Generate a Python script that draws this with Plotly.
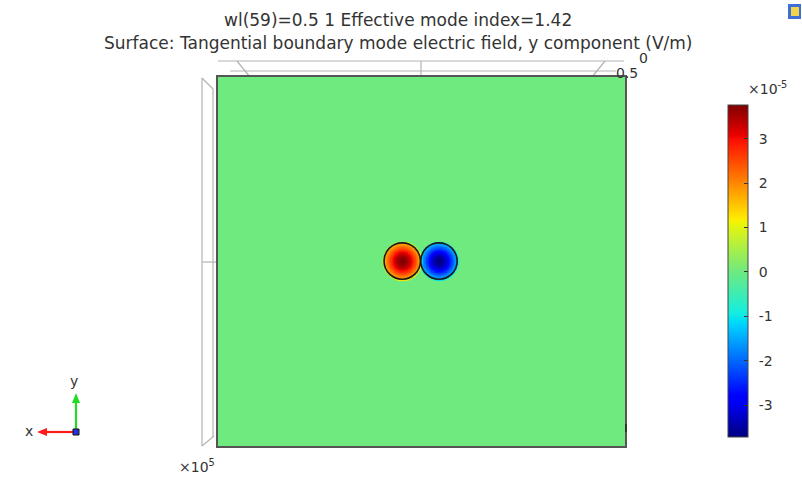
import numpy as np
import plotly.graph_objects as go

# ---------------- data ----------------
title_line1 = "wl(59)=0.5 1 Effective mode index=1.42"
title_line2 = "Surface: Tangential boundary mode electric field, y component (V/m)"

# two lobes of the mode field (values in units of 1e-5 V/m)
lobe_x = [-1.02, 1.02]          # centres, um
lobe_y = [0.0, 0.0]
lobe_radius = [1.01, 1.01]      # wire radius, um
lobe_peak = [3.76, -3.72]       # peak field (x1e-5 V/m)
lobe_edge_value = [1.65, -1.35] # field at the boundary circle (x1e-5 V/m)

field_min = -3.72
field_max = 3.76
cbar_tickvals = [3, 2, 1, 0, -1, -2, -3]
cbar_ticktext = ["3", "2", "1", "0", "-1", "-2", "-3"]
top_tick_labels = ["0", "0.5"]
exponent_label = "×10<sup>5</sup>"
cbar_exponent_label = "×10<sup>-5</sup>"

x_range = [-11.25, 11.35]
y_range = [-10.27, 10.22]

# ---------------- field grid ----------------
xs = np.concatenate([np.linspace(x_range[0], -3.0, 9), np.arange(-2.6, 2.6001, 0.04),
                     np.linspace(3.0, x_range[1], 9)])
ys = np.concatenate([np.linspace(y_range[0], -2.0, 9), np.arange(-1.6, 1.6001, 0.04),
                     np.linspace(2.0, y_range[1], 9)])
X, Y = np.meshgrid(xs, ys)
Z = np.zeros_like(X)
for cx, cy, R, pk, ev in zip(lobe_x, lobe_y, lobe_radius, lobe_peak, lobe_edge_value):
    r = np.hypot(X - cx, Y - cy)
    a = np.log(pk / ev) / R ** 2
    inside = pk * np.exp(-a * r ** 2)
    outside = ev * np.exp(-((r - R) / 0.07) ** 2)
    Z += np.where(r <= R, inside, outside)

jet = [
    [0.0, "rgb(0,0,128)"], [0.11, "rgb(0,0,255)"], [0.125, "rgb(0,0,255)"],
    [0.34, "rgb(0,212,255)"], [0.35, "rgb(0,222,245)"], [0.375, "rgb(21,238,222)"],
    [0.5, "rgb(112,234,125)"],
    [0.64, "rgb(232,245,12)"], [0.65, "rgb(245,242,0)"], [0.66, "rgb(255,232,0)"],
    [0.89, "rgb(255,19,0)"], [0.91, "rgb(232,0,0)"], [1.0, "rgb(128,0,0)"],
]

W, H = 802, 478
L, Rm, T, B = 218, 177, 77, 32


def px(x):
    return (x - L) / (W - L - Rm)


def py(y):
    return (H - B - y) / (H - T - B)


fig = go.Figure()
fig.add_trace(go.Heatmap(
    x=xs, y=ys, z=Z, zmin=field_min, zmax=field_max, colorscale=jet,
    zsmooth="best",
    colorbar=dict(
        xref="paper", yref="paper", xpad=0, ypad=0,
        x=px(728), xanchor="left", y=py(437), yanchor="bottom",
        len=(437 - 105) / (H - T - B), lenmode="fraction", thickness=20,
        outlinecolor="#444", outlinewidth=1,
        tickvals=cbar_tickvals, ticktext=["\u2002" + t for t in cbar_ticktext],
        ticks="inside", ticklen=4, tickcolor="#333",
        tickfont=dict(family="DejaVu Sans", size=14, color="#333"),
    ),
    showscale=True,
))

shapes = []
# wire boundaries
for cx, cy, R in zip(lobe_x, lobe_y, lobe_radius):
    shapes.append(dict(type="circle", xref="x", yref="y", x0=cx - R, x1=cx + R,
                       y0=cy - R, y1=cy + R, line=dict(color="#1a1a1a", width=1.6)))

grey = dict(color="#b4b4b4", width=1.2)
frame_lines = [
    ((218, 61), (624, 61)), ((230, 71), (616, 71)), ((421, 61), (421, 77)),
    ((237, 61), (250, 77)), ((605, 61), (592, 77)),
    ((202, 78), (202, 446)), ((213, 89), (213, 437)), ((202, 78), (213, 89)),
    ((202, 446), (214, 436)), ((202, 262), (218, 262)),
]
for (x0, y0), (x1, y1) in frame_lines:
    shapes.append(dict(type="line", xref="paper", yref="paper", x0=px(x0), y0=py(y0),
                       x1=px(x1), y1=py(y1), line=grey, layer="below"))
# small dark tick on the right edge
shapes.append(dict(type="line", xref="paper", yref="paper", x0=px(626), y0=py(424),
                   x1=px(626), y1=py(432), line=dict(color="#333", width=2)))
# triad arrows (shafts + heads)
shapes.append(dict(type="line", xref="paper", yref="paper", x0=px(76), y0=py(432),
                   x1=px(46), y1=py(432), line=dict(color="#ff1a1a", width=2.2)))
shapes.append(dict(type="path", xref="paper", yref="paper",
                   path=f"M {px(37)} {py(432)} L {px(47)} {py(428)} L {px(47)} {py(436)} Z",
                   fillcolor="#ff1a1a", line=dict(width=0)))
shapes.append(dict(type="line", xref="paper", yref="paper", x0=px(76), y0=py(432),
                   x1=px(76), y1=py(402), line=dict(color="#22dd22", width=2.2)))
shapes.append(dict(type="path", xref="paper", yref="paper",
                   path=f"M {px(76)} {py(393)} L {px(72)} {py(403)} L {px(80)} {py(403)} Z",
                   fillcolor="#22dd22", line=dict(width=0)))
# triad origin
shapes.append(dict(type="rect", xref="paper", yref="paper", x0=px(73), y0=py(435),
                   x1=px(79), y1=py(429), fillcolor="#2233dd", line=dict(color="#111", width=1)))
# corner icon
shapes.append(dict(type="rect", xref="paper", yref="paper", x0=px(788), y0=py(19),
                   x1=px(801), y1=py(4), fillcolor="#3d6fd6", line=dict(width=0)))
shapes.append(dict(type="rect", xref="paper", yref="paper", x0=px(791), y0=py(16),
                   x1=px(799), y1=py(7), fillcolor="#f2d44a", line=dict(width=0)))

font = dict(family="DejaVu Sans", size=14, color="#333")
tfont = dict(family="DejaVu Sans", size=17, color="#333")
ann = [
    dict(text=title_line1, x=px(398), y=py(20), font=tfont),
    dict(text=title_line2, x=px(398), y=py(43), font=tfont),
    dict(text=top_tick_labels[0], x=px(643), y=py(58), font=font),
    dict(text=top_tick_labels[1], x=px(627), y=py(73), font=font),
    dict(text=exponent_label, x=px(197), y=py(466), font=font),
    dict(text=cbar_exponent_label, x=px(767), y=py(88), font=font),
    dict(text="x", x=px(29), y=py(431), font=font),
    dict(text="y", x=px(74), y=py(381), font=font),
]
annotations = []
for a in ann:
    annotations.append(dict(xref="paper", yref="paper", showarrow=False,
                            xanchor="center", yanchor="middle", **a))

axis_common = dict(showgrid=False, zeroline=False, showticklabels=False, ticks="",
                   showline=True, mirror=True, linecolor="#555", linewidth=1.5)
fig.update_layout(
    width=W, height=H, margin=dict(l=L, r=Rm, t=T, b=B, autoexpand=False),
    paper_bgcolor="white", plot_bgcolor="white",
    xaxis=dict(range=x_range, **axis_common),
    yaxis=dict(range=y_range, **axis_common),
    shapes=shapes, annotations=annotations, showlegend=False,
)
fig.write_html("out.html", config={"displayModeBar": False},
               post_script="document.body.style.margin='0';")
